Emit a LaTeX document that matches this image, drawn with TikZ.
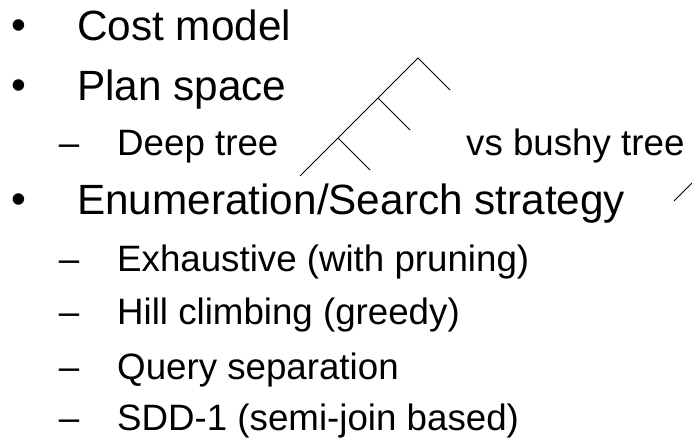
\documentclass[tikz,border=0pt]{standalone}
\usepackage{fontspec}
\setmainfont{Liberation Sans}
\tikzset{
  lvlone/.style={anchor=base west, inner sep=0pt, font=\fontsize{42.3}{50}\selectfont},
  lvltwo/.style={anchor=base west, inner sep=0pt, font=\fontsize{36.7}{43}\selectfont},
  bulletmark/.style={anchor=base, inner sep=0pt, font=\fontsize{42.3}{50}\selectfont},
  dashmark/.style={anchor=base, inner sep=0pt, font=\fontsize{36.7}{43}\selectfont},
  treeline/.style={draw=black, line width=0.9pt}
}
\begin{document}
\begin{tikzpicture}[x=1pt,y=-1pt]
  \clip (0,0) rectangle (692,442);
  \fill[white] (0,0) rectangle (692,442);

  % top-level items
  \node[bulletmark] (b1) at (19,39) {•};
  \node[lvlone] (cost) at (77,40) {Cost model};
  \node[bulletmark] (b2) at (19,99) {•};
  \node[lvlone] (plan) at (77,100) {Plan space};
  \node[bulletmark] (b3) at (19,213) {•};
  \node[lvlone] (enum) at (77,214) {Enumeration/Search strategy};

  % second-level items
  \node[dashmark] (d1) at (69,155) {–};
  \node[lvltwo] (deep) at (117,155) {Deep tree};
  \node[lvltwo] (bushy) at (466,155) {vs bushy tree};
  \node[dashmark] (d2) at (69,271) {–};
  \node[lvltwo] (exh) at (117,271) {Exhaustive (with pruning)};
  \node[dashmark] (d3) at (69,324) {–};
  \node[lvltwo] (hill) at (117,324) {Hill climbing (greedy)};
  \node[dashmark] (d4) at (69,379) {–};
  \node[lvltwo] (query) at (117,379) {Query separation};
  \node[dashmark] (d5) at (69,430) {–};
  \node[lvltwo] (sdd) at (117,430) {SDD-1 (semi-join based)};

  % left-deep tree sketch
  \coordinate (root) at (418,58);
  \coordinate (leafA) at (300,176);
  \coordinate (rootR) at (450,90);
  \coordinate (j1) at (378,98);
  \coordinate (j1R) at (410,130);
  \coordinate (j2) at (338,138);
  \coordinate (j2R) at (370,170);
  \draw[treeline] (leafA) -- (root) -- (rootR);
  \draw[treeline] (j1) -- (j1R);
  \draw[treeline] (j2) -- (j2R);

  % bushy tree sketch, running off the right edge
  \coordinate (bA) at (674,201);
  \coordinate (bB) at (704,171);
  \draw[treeline] (bA) -- (bB);
\end{tikzpicture}
\end{document}
